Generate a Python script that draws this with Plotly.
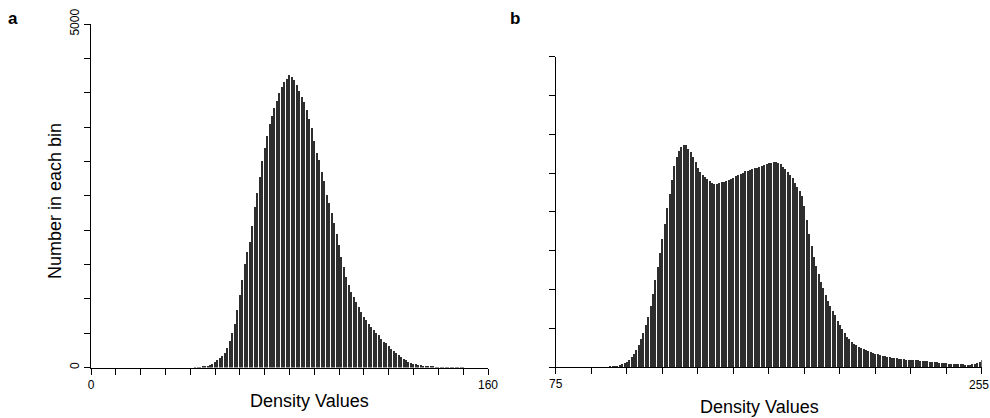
import plotly.graph_objects as go

# ---------------- data ----------------
# Panel a: density value bins 42..150 (all other bins 0..160 are empty)
a_bins = list(range(42, 151))
a_counts = [
    2, 4, 7, 12, 18, 27, 40, 58,                      # 42-49
    82, 108, 135, 168, 210, 290, 380, 500, 640, 830,  # 50-59
    1050, 1270, 1500, 1680, 1830, 2060, 2330, 2540, 2780, 3000,  # 60-69
    3200, 3370, 3540, 3660, 3780, 3880, 4000, 4090, 4150, 4200,  # 70-79
    4260, 4230, 4180, 4110, 4020, 3940, 3860, 3750, 3610, 3480,  # 80-89
    3290, 3120, 3020, 2850, 2710, 2510, 2390, 2250, 2100, 1950,  # 90-99
    1780, 1610, 1470, 1320, 1200, 1100, 1030, 960, 880, 810,     # 100-109
    740, 690, 640, 590, 545, 505, 470, 420, 375, 350,            # 110-119
    310, 275, 245, 215, 180, 155, 130, 105, 85, 68,              # 120-129
    58, 49, 39, 30, 24, 19, 15, 12, 9, 7,                        # 130-139
    6, 5, 4, 4, 3, 3, 2, 2, 2, 1,                                # 140-149
    1,                                                           # 150
]

# Panel b: density value bins 97..255
b_bins = list(range(97, 256))
b_counts = [
    3, 5, 8,                                                     # 97-99
    12, 18, 26, 38, 52, 72, 100, 135, 175, 225,                  # 100-109
    290, 360, 440, 540, 650, 790, 950, 1120, 1290, 1470,         # 110-119
    1660, 1850, 2050, 2240, 2420, 2600, 2710, 2790, 2845, 2870,  # 120-129
    2860, 2820, 2770, 2715, 2650, 2570, 2515, 2485, 2455, 2425,  # 130-139
    2400, 2375, 2365, 2365, 2375, 2390, 2395, 2400, 2415, 2430,  # 140-149
    2445, 2460, 2480, 2495, 2510, 2525, 2535, 2548, 2556, 2565,  # 150-159
    2572, 2582, 2595, 2605, 2620, 2632, 2640, 2645, 2645, 2635,  # 160-169
    2615, 2585, 2555, 2520, 2480, 2440, 2380, 2320, 2275, 2210,  # 170-179
    2080, 1900, 1720, 1560, 1420, 1300, 1200, 1100, 1020, 935,   # 180-189
    850, 790, 730, 670, 600, 540, 490, 440, 395, 360,            # 190-199
    330, 305, 285, 268, 252, 238, 224, 212, 200, 188,            # 200-209
    177, 166, 157, 150, 144, 138, 132, 126, 120, 116,            # 210-219
    111, 107, 103, 100, 98, 96, 95, 92, 89, 86,                  # 220-229
    83, 80, 77, 73, 70, 67, 64, 61, 58, 55,                      # 230-239
    52, 49, 46, 43, 41, 40, 39, 37, 35, 34,                      # 240-249
    36, 40, 46, 55, 68, 95,                                      # 250-255
]

a_xticks = list(range(0, 161, 10))
a_xticklabels = ["0"] + [""] * 15 + ["160"]
a_yticks = list(range(0, 5001, 500))
a_yticklabels = ["0"] + [""] * 9 + ["5000"]
b_xticks = list(range(75, 256, 15))
b_xticklabels = ["75"] + [""] * 12      # "255" drawn as a label at the axis end
b_end_label = "255"
b_yticks = list(range(0, 4001, 500))

x_title = "Density Values"
y_title = "Number in each bin"

# ---------------- figure ----------------
W, H = 990, 418
FONT = "Liberation Sans, Arial, Helvetica, sans-serif"
BAR = "#2e2e2e"

fig = go.Figure()
fig.add_trace(go.Bar(x=a_bins, y=a_counts, width=0.5, marker=dict(color=BAR, line=dict(width=0)),
                     xaxis="x", yaxis="y", showlegend=False, hoverinfo="x+y"))
fig.add_trace(go.Bar(x=b_bins, y=b_counts, width=0.5, marker=dict(color=BAR, line=dict(width=0)),
                     xaxis="x2", yaxis="y2", showlegend=False, hoverinfo="x+y"))

def px_x(p):
    return p / W

def px_y(p):
    return 1 - p / H

axis_common = dict(showgrid=False, zeroline=False, showline=True, linecolor="black", linewidth=1,
                   ticks="outside", ticklen=6, tickwidth=1, tickcolor="black", automargin=False,
                   tickfont=dict(family=FONT, size=12, color="black"), fixedrange=True)

fig.update_layout(
    template="none",
    width=W, height=H,
    margin=dict(l=0, r=0, t=0, b=0, pad=0, autoexpand=False),
    paper_bgcolor="white", plot_bgcolor="white",
    bargap=0,
    xaxis=dict(domain=[px_x(91), px_x(488)], range=[0, 160], anchor="y",
               tickmode="array", tickvals=a_xticks, ticktext=a_xticklabels, **axis_common),
    yaxis=dict(domain=[px_y(367.5), px_y(24)], range=[0, 5000], anchor="x",
               tickmode="array", tickvals=a_yticks, ticktext=a_yticklabels, tickangle=-90,
               **axis_common),
    xaxis2=dict(domain=[px_x(555.7), px_x(981.7)], range=[75, 255], anchor="y2",
                tickmode="array", tickvals=b_xticks, ticktext=b_xticklabels, **axis_common),
    yaxis2=dict(domain=[px_y(367), px_y(56.7)], range=[0, 4000], anchor="x2",
                tickmode="array", tickvals=b_yticks, showticklabels=False, **axis_common),
)

annots = [
    dict(text="<b>a</b>", x=px_x(13), y=px_y(19), size=17),
    dict(text="<b>b</b>", x=px_x(515), y=px_y(19), size=17),
    dict(text=x_title, x=px_x(309), y=px_y(401), size=18),
    dict(text=x_title, x=px_x(759), y=px_y(407), size=18),
    dict(text=y_title, x=px_x(55), y=px_y(201), size=18, textangle=-90),
    dict(text=b_end_label, x=px_x(979), y=px_y(385), size=12),
]
for a in annots:
    fig.add_annotation(text=a["text"], x=a["x"], y=a["y"], xref="paper", yref="paper",
                       xanchor="center", yanchor="middle", showarrow=False,
                       textangle=a.get("textangle", 0),
                       font=dict(family=FONT, size=a["size"], color="black"))

fig.write_html("out.html", config={"displayModeBar": False},
               post_script="document.body.style.margin='0';document.body.style.overflow='hidden';")
